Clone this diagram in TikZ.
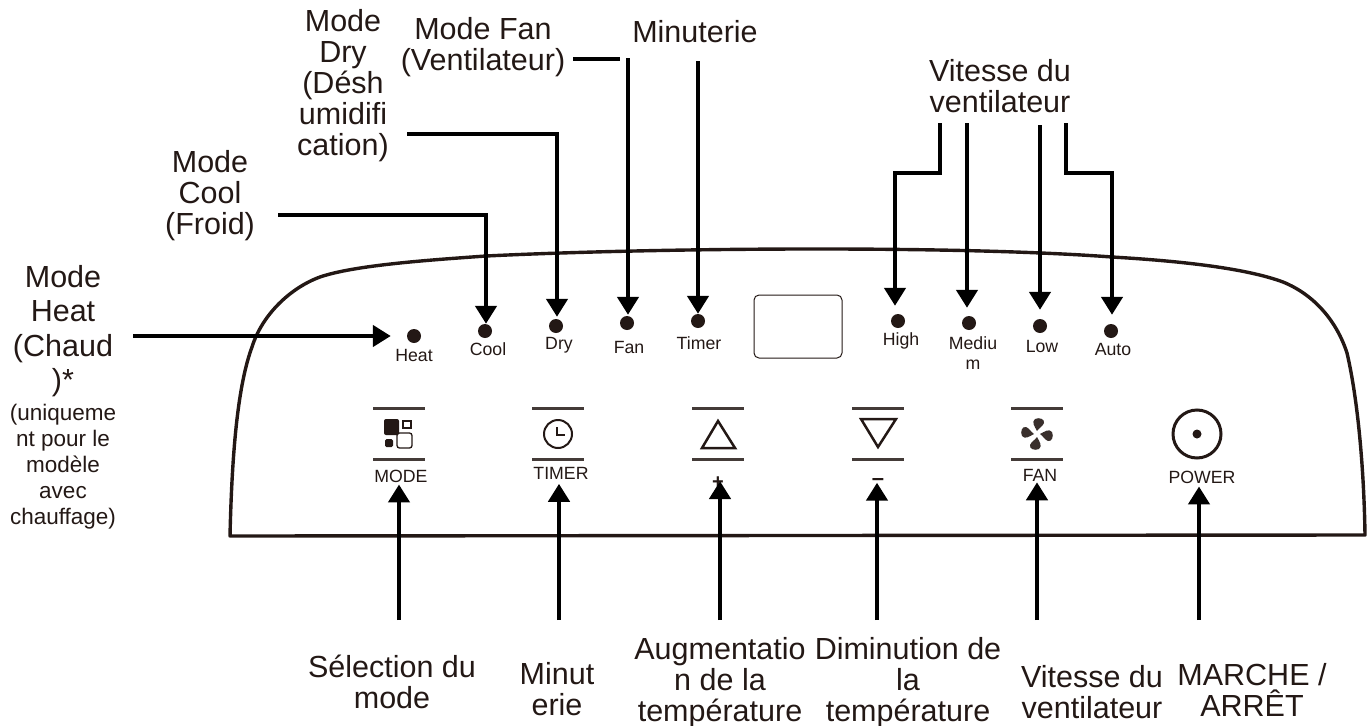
\documentclass[tikz,border=0pt]{standalone}
\usepackage{fontspec}
\setmainfont{Liberation Sans}
\usepackage{xcolor}
\usetikzlibrary{arrows.meta,calc,positioning}
\definecolor{panelink}{HTML}{231815}
\tikzset{
 bigtext/.style={inner sep=0pt,align=center,text=panelink,font=\fontsize{30.5}{31}\selectfont},
 notetext/.style={inner sep=0pt,align=center,text=panelink,font=\fontsize{22.5}{26}\selectfont},
 keytext/.style={inner sep=0pt,align=center,text=panelink,font=\fontsize{17.7}{20}\selectfont},
 led/.style={circle,fill=panelink,inner sep=0pt,minimum size=14pt},
 callout/.style={line width=4.5pt,black,-{Triangle[length=18pt,width=21pt]}},
 stub/.style={line width=4pt,black},
 keybar/.style={line width=3pt,panelink!85},
 iconline/.style={line width=2pt,panelink}
}
\begin{document}
\begin{tikzpicture}[x=1pt,y=-1pt,>=Latex]
\useasboundingbox (0,0) rectangle (1369,726);
% panel outline
\draw[line width=3.4pt,panelink,line join=round] (230,536) .. controls (232,450) and (238,385) .. (252,347)
 .. controls (262,315) and (290,288) .. (320,277)
 .. controls (355,265) and (430,260) .. (486,256)
 .. controls (650,248) and (950,245) .. (1112,257)
 .. controls (1180,261) and (1245,268) .. (1283,282)
 .. controls (1315,295) and (1337,322) .. (1347,353)
 .. controls (1358,400) and (1364,470) .. (1365,535) -- cycle;
\draw[line width=1pt,panelink,rounded corners=5pt] (754,295) rectangle (842,358);
% leds
\foreach \nm/\x/\y/\lx/\ly/\txt in {heat/414/336/414/355/Heat,cool/485/331/488/349/Cool,dry/556/326/559/345/Dry,
 fan/627/323/629/347/Fan,timer/698/321/699/343/Timer,high/898/321/901/341/High,
 medium/969/323/973/353/Mediu\\m,low/1040/326/1042/346/Low,auto/1111/331/1113/349/Auto}{
 \node[led] (\nm led) at (\x,\y) {};
 \node[keytext] (\nm txt) at (\lx,\ly) {\txt};
}
% key bars
\foreach \x in {373,532,692,852,1011}{
 \draw[keybar] (\x,408) -- ++(52,0);
 \draw[keybar] (\x,459) -- ++(52,0);
}
% mode icon
\fill[panelink,rounded corners=2pt] (384,419) rectangle (399,435);
\fill[panelink,rounded corners=1.5pt] (385,439) rectangle (393,447);
\draw[line width=1.3pt,panelink] (403,421) rectangle (411,428);
\draw[line width=1.3pt,panelink,rounded corners=2.5pt] (397,433) rectangle (412,448);
% clock icon
\draw[iconline] (558,434) circle (14);
\draw[iconline] (557,427) -- (557,435) -- (565,435);
% triangles
\draw[line width=2.5pt,panelink] (718,421) -- (702,448) -- (735,448) -- cycle;
\draw[line width=2.5pt,panelink] (861,419) -- (896,419) -- (878,447) -- cycle;
% fan icon
\foreach \a in {0,90,180,270}{
 \fill[panelink!90,shift={(1037,434)},rotate=\a] (0,-3) .. controls (-2,-7) and (-6,-12) .. (-2,-15)
  .. controls (2,-17) and (8,-15) .. (7,-11) .. controls (6,-8) and (2,-6) .. (0,-3) -- cycle;
}
% power icon
\draw[line width=3pt,panelink] (1197,434) circle (24);
\fill[panelink] (1197,434) circle (4.5);
% key labels
\node[keytext] (modekey) at (401,476) {MODE};
\node[keytext] (timerkey) at (561,473) {TIMER};
\node[keytext,font=\bfseries\fontsize{20}{20}\selectfont] (pluskey) at (718,483) {+};
\node[keytext,font=\bfseries\fontsize{22}{22}\selectfont] (minuskey) at (878,482) {–};
\node[keytext] (fankey) at (1040,475) {FAN};
\node[keytext] (powerkey) at (1202,477) {POWER};
% top and side labels
\node[bigtext,font=\fontsize{30.5}{34.5}\selectfont] (heatname) at (63,331) {Mode\\Heat\\(Chaud\\)*};
\node[notetext] (heatnote) at (63,466.5) {(uniqueme\\nt pour le\\modèle\\avec\\chauffage)};
\node[bigtext] (coolname) at (210,196) {Mode\\Cool\\(Froid)};
\node[bigtext] (dryname) at (343,86) {Mode\\Dry\\(Désh\\umidifi\\cation)};
\node[bigtext] (fanname) at (483,47) {Mode Fan\\(Ventilateur)};
\node[bigtext] (timername) at (695,32) {Minuterie};
\node[bigtext] (speedname) at (1000,86) {Vitesse du\\ventilateur};
% bottom labels
\node[bigtext] (modename) at (392,682) {Sélection du\\mode};
\node[bigtext] (clockname) at (557,689) {Minut\\erie};
\node[bigtext] (upname) at (720,683) {Augmentatio\\n de la\\température};
\node[bigtext] (downname) at (908,683) {Diminution de\\la\\température};
\node[bigtext] (blowname) at (1092,692) {Vitesse du\\ventilateur};
\node[bigtext] (powername) at (1252,690) {MARCHE /\\ARRÊT};
% callouts to the leds
\coordinate (heatstart) at (133,336);
\coordinate (coolstart) at (278,215);
\coordinate (coolbend) at (486,215);
\coordinate (drystart) at (407,134);
\coordinate (drybend) at (557,134);
\coordinate (fanstub) at (573,59);
\coordinate (fanstubend) at (620,59);
\coordinate (fanstart) at (628,58);
\coordinate (timerstart) at (698,61);
\coordinate (highstart) at (940,123);
\coordinate (highmid) at (940,173);
\coordinate (highbend) at (895,173);
\coordinate (mediumstart) at (967,123);
\coordinate (lowstart) at (1040,125);
\coordinate (autostart) at (1066,123);
\coordinate (automid) at (1066,173);
\coordinate (autobend) at (1112,173);
\draw[callout,shorten >=16pt] (heatstart) -- (heatled.west);
\draw[callout] (coolstart) -- (coolbend) -- (coolbend |- coolled.north);
\draw[callout,shorten >=2pt] (drystart) -- (drybend) -- (drybend |- dryled.north);
\draw[stub] (fanstub) -- (fanstubend);
\draw[callout,shorten >=1pt] (fanstart) -- (fanstart |- fanled.north);
\draw[callout] (timerstart) -- (timerled.north);
\draw[callout,shorten >=8pt] (highstart) -- (highmid) -- (highbend) -- (highbend |- highled.north);
\draw[callout,shorten >=8pt] (mediumstart) -- (mediumstart |- mediumled.north);
\draw[callout,shorten >=9pt] (lowstart) -- (lowled.north);
\draw[callout,shorten >=9pt] (autostart) -- (automid) -- (autobend) -- (autobend |- autoled.north);
% callouts to the keys
\foreach \nm/\x/\gap in {mode/399/2,timer/559/4.5,plus/720/-8,minus/877/-3,fan/1037/1,power/1199/3}{
 \coordinate (\nm start) at (\x,620);
 \draw[callout,shorten >=\gap pt] (\nm start) -- (\nm start |- \nm key.south);
}
\end{tikzpicture}
\end{document}
